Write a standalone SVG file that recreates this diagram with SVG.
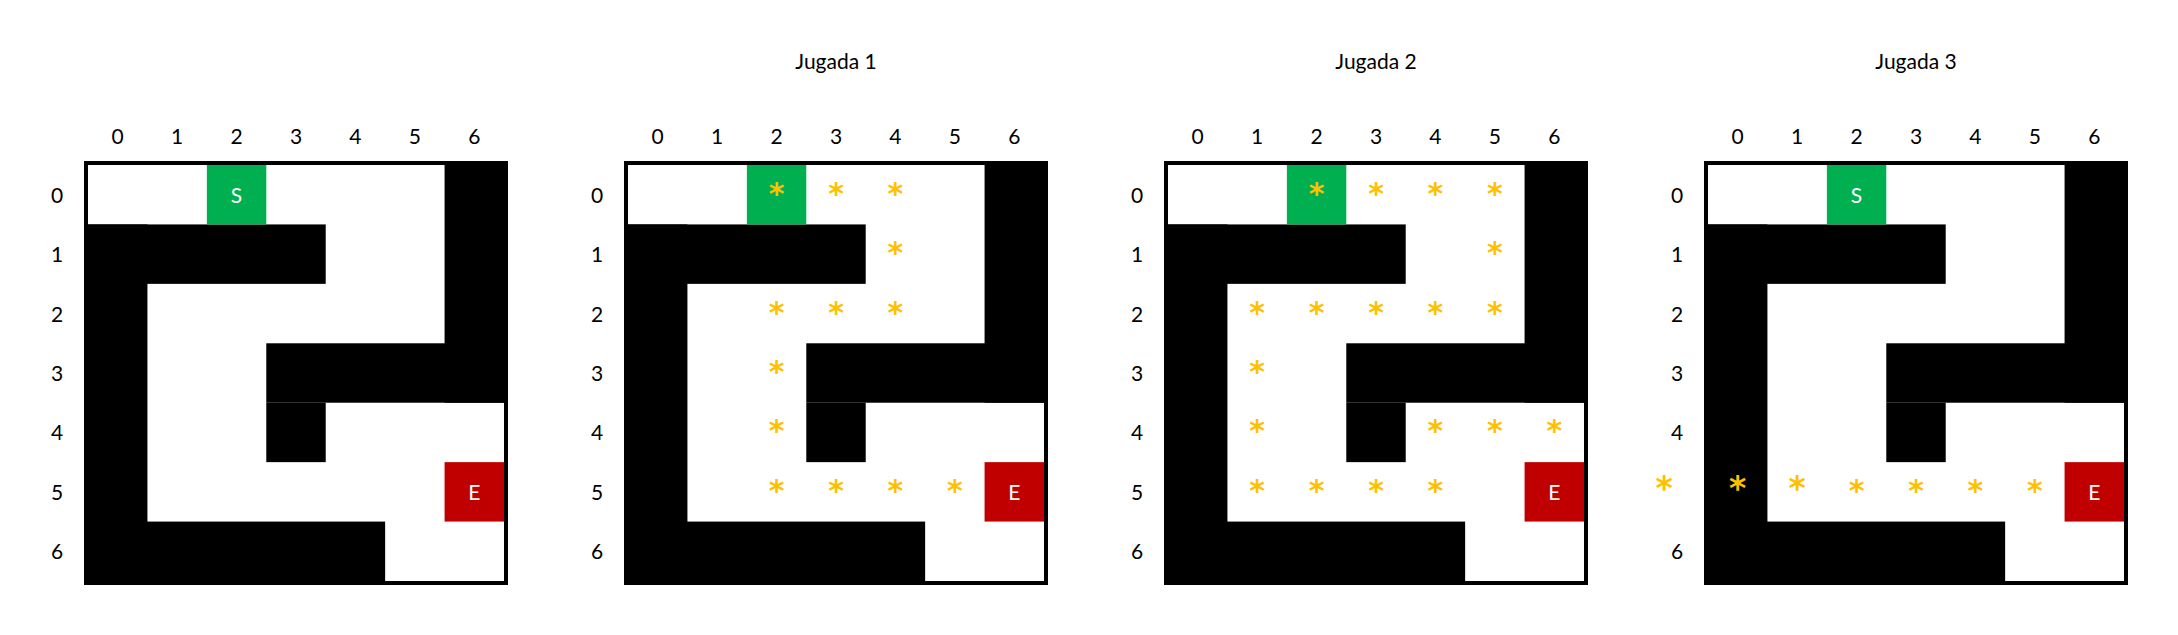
<svg xmlns="http://www.w3.org/2000/svg" xmlns:xlink="http://www.w3.org/1999/xlink" width="2178" height="635" viewBox="0 0 2178 635">
<style>
  text { font-family: Lato, "Open Sans", "Liberation Sans", sans-serif; font-size: 21px; fill: #000; text-anchor: middle; }
  .w { fill: #fff; }
  .st { font-family: "DejaVu Sans", sans-serif; font-weight: bold; font-size: 30px; fill: #FFC000; }
  .stb { font-family: "DejaVu Sans", sans-serif; font-weight: bold; font-size: 33px; fill: #FFC000; }
  .wall { fill: #000; }
</style>
<defs>
  <g id="maze">
    <rect x="2" y="2" width="420" height="420" fill="#fff" stroke="#000" stroke-width="4"/>
    <rect class="wall" x="360.57" y="4" width="59.43" height="237.71"/>
    <rect class="wall" x="4" y="63.43" width="237.71" height="59.43"/>
    <rect class="wall" x="4" y="63.43" width="59.43" height="356.57"/>
    <rect class="wall" x="182.29" y="182.29" width="237.71" height="59.43"/>
    <rect class="wall" x="182.29" y="241.71" width="59.43" height="59.43"/>
    <rect class="wall" x="4" y="360.57" width="297.14" height="59.43"/>
    <rect x="122.86" y="4" width="59.43" height="59.43" fill="#00B050"/>
    <rect x="360.57" y="301.14" width="59.43" height="59.43" fill="#C00000"/>
    <text class="w" x="390.29" y="338.9">E</text>
    <g>
      <text x="33.71" y="-17.5">0</text>
      <text x="93.14" y="-17.5">1</text>
      <text x="152.57" y="-17.5">2</text>
      <text x="212" y="-17.5">3</text>
      <text x="271.43" y="-17.5">4</text>
      <text x="330.86" y="-17.5">5</text>
      <text x="390.29" y="-17.5">6</text>
    </g>
    <g>
      <text x="-27" y="41.7">0</text>
      <text x="-27" y="101.1">1</text>
      <text x="-27" y="160.6">2</text>
      <text x="-27" y="220">3</text>
      <text x="-27" y="279.4">4</text>
      <text x="-27" y="398.3">6</text>
    </g>
  </g>
</defs>

<g id="maze-initial" transform="translate(84,161)">
  <use xlink:href="#maze" href="#maze"/>
  <text class="w" x="152.57" y="41.7">S</text>
  <text x="-27" y="338.9">5</text>
</g>

<g id="jugada-1" transform="translate(624,161)">
  <text x="212" y="-92">Jugada 1</text>
  <use xlink:href="#maze" href="#maze"/>
  <text x="-27" y="338.9">5</text>
  <g>
    <text class="st" x="152.57" y="42.7">*</text>
    <text class="st" x="212" y="42.7">*</text>
    <text class="st" x="271.43" y="42.7">*</text>
    <text class="st" x="271.43" y="102.1">*</text>
    <text class="st" x="152.57" y="161.6">*</text>
    <text class="st" x="212" y="161.6">*</text>
    <text class="st" x="271.43" y="161.6">*</text>
    <text class="st" x="152.57" y="221">*</text>
    <text class="st" x="152.57" y="280.4">*</text>
    <text class="st" x="152.57" y="339.9">*</text>
    <text class="st" x="212" y="339.9">*</text>
    <text class="st" x="271.43" y="339.9">*</text>
    <text class="st" x="330.86" y="339.9">*</text>
  </g>
</g>

<g id="jugada-2" transform="translate(1164,161)">
  <text x="212" y="-92">Jugada 2</text>
  <use xlink:href="#maze" href="#maze"/>
  <text x="-27" y="338.9">5</text>
  <g>
    <text class="st" x="152.57" y="42.7">*</text>
    <text class="st" x="212" y="42.7">*</text>
    <text class="st" x="271.43" y="42.7">*</text>
    <text class="st" x="330.86" y="42.7">*</text>
    <text class="st" x="330.86" y="102.1">*</text>
    <text class="st" x="93.14" y="161.6">*</text>
    <text class="st" x="152.57" y="161.6">*</text>
    <text class="st" x="212" y="161.6">*</text>
    <text class="st" x="271.43" y="161.6">*</text>
    <text class="st" x="330.86" y="161.6">*</text>
    <text class="st" x="93.14" y="221">*</text>
    <text class="st" x="93.14" y="280.4">*</text>
    <text class="st" x="271.43" y="280.4">*</text>
    <text class="st" x="330.86" y="280.4">*</text>
    <text class="st" x="390.29" y="280.4">*</text>
    <text class="st" x="93.14" y="339.9">*</text>
    <text class="st" x="152.57" y="339.9">*</text>
    <text class="st" x="212" y="339.9">*</text>
    <text class="st" x="271.43" y="339.9">*</text>
  </g>
</g>

<g id="jugada-3" transform="translate(1704,161)">
  <text x="212" y="-92">Jugada 3</text>
  <use xlink:href="#maze" href="#maze"/>
  <text class="w" x="152.57" y="41.7">S</text>
  <g>
    <text class="stb" x="-40" y="339">*</text>
    <text class="stb" x="33.71" y="339">*</text>
    <text class="stb" x="93.14" y="339">*</text>
    <text class="st" x="152.57" y="339.9">*</text>
    <text class="st" x="212" y="339.9">*</text>
    <text class="st" x="271.43" y="339.9">*</text>
    <text class="st" x="330.86" y="339.9">*</text>
  </g>
</g>
</svg>
